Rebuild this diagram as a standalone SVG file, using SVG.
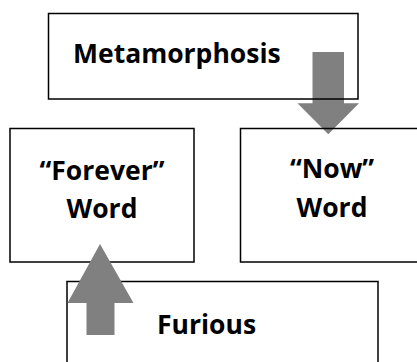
<svg xmlns="http://www.w3.org/2000/svg" width="417" height="362" viewBox="0 0 417 362">
<style>
.box{fill:none;stroke:#000;stroke-width:1.5}
.t{font-family:"Open Sans","Noto Sans",sans-serif;font-weight:700;font-size:26.5px;fill:#000}
.arrow{fill:#808080;stroke:none}
</style>
<rect width="417" height="362" fill="#fff"/>
<g id="connectors-under">
<polygon class="arrow" points="312.5,52 344,52 344,103.3 359,103.3 328.3,134.3 297.5,103.3 312.5,103.3"/>
</g>
<g id="metamorphosis">
<rect class="box" x="48.5" y="13.5" width="309.5" height="85.5"/>
<text class="t" x="73" y="63">Metamorphosis</text>
</g>
<g id="forever">
<rect class="box" x="10" y="128.5" width="184" height="133.5"/>
<text class="t" x="102" y="180" text-anchor="middle">“Forever”</text>
<text class="t" x="102" y="217.5" text-anchor="middle">Word</text>
</g>
<g id="now">
<rect class="box" x="240.5" y="128.5" width="184" height="133.5"/>
<text class="t" x="332" y="178" text-anchor="middle">“Now”</text>
<text class="t" x="332" y="217" text-anchor="middle">Word</text>
</g>
<g id="furious">
<rect class="box" x="67" y="281.5" width="311" height="90"/>
<text class="t" x="157" y="334">Furious</text>
</g>
<g id="connectors">
<polygon class="arrow" points="86.5,335 114.5,335 114.5,303 133.5,303 100,244 67.5,303 86.5,303"/>
</g>
</svg>
